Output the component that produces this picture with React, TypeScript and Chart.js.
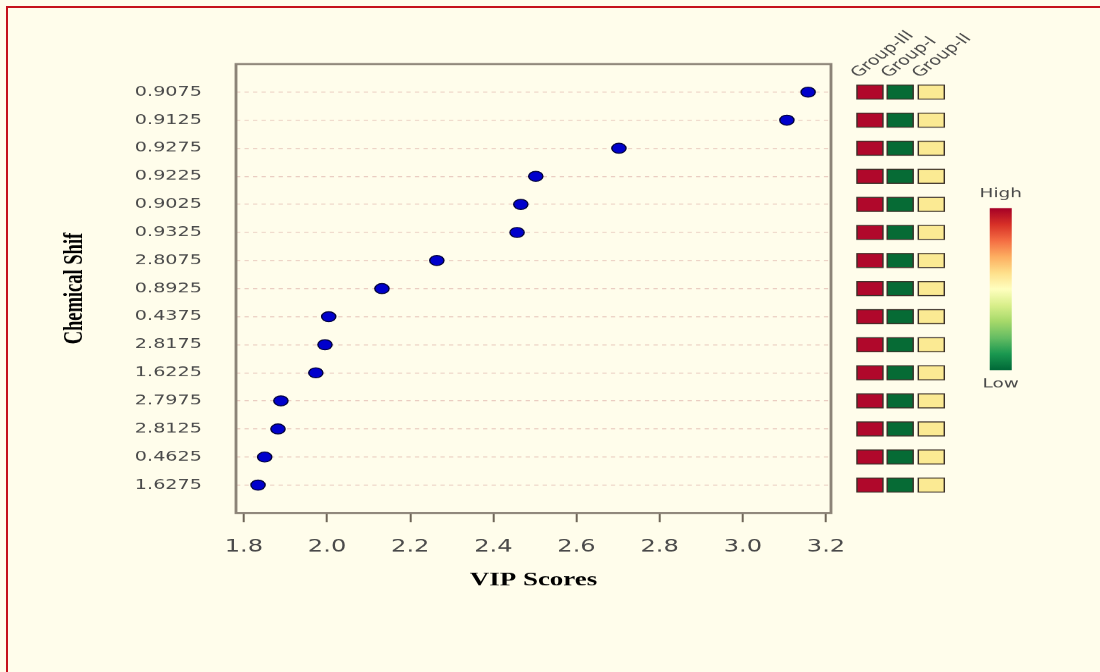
import React, { useEffect, useRef } from "react";
import { Chart, registerables } from "chart.js";

Chart.register(...registerables);

// ---- data ----
const chemicalShifts = [
  "0.9075", "0.9125", "0.9275", "0.9225", "0.9025", "0.9325", "2.8075", "0.8925",
  "0.4375", "2.8175", "1.6225", "2.7975", "2.8125", "0.4625", "1.6275",
];
const vipScores = [
  3.157, 3.106, 2.702, 2.502, 2.466, 2.457, 2.264, 2.132,
  2.004, 1.995, 1.973, 1.889, 1.882, 1.850, 1.834,
];
const xTickValues = [1.8, 2.0, 2.2, 2.4, 2.6, 2.8, 3.0, 3.2];
const groupNames = ["Group-III", "Group-I", "Group-II"];
// relative level per row for each group: "high" | "low" | "mid"
const groupIIILevels = Array.from({ length: 15 }, () => "high");
const groupILevels = Array.from({ length: 15 }, () => "low");
const groupIILevels = Array.from({ length: 15 }, () => "mid");
const heatLevels = [groupIIILevels, groupILevels, groupIILevels];

// ---- styling ----
const SX = 1.42; // horizontal stretch of the original figure
const W = 775;
const H = 672;
const levelColor: Record<string, string> = { high: "#b0082b", low: "#066b35", mid: "#fbea93" };

const sidePlugin = {
  id: "sidePlugin",
  afterDraw(chart: any) {
    const { ctx, chartArea } = chart;
    const y = chart.scales.y;
    ctx.save();
    // frame
    ctx.strokeStyle = "#8c8377";
    ctx.lineWidth = 2;
    ctx.strokeRect(chartArea.left, chartArea.top, chartArea.right - chartArea.left, chartArea.bottom - chartArea.top);

    // heat squares
    const colOffsets = [18.3, 39.6, 61.5];
    const cw = 18.3;
    const ch = 14;
    heatLevels.forEach((levels, g) => {
      levels.forEach((lv, i) => {
        const cy = y.getPixelForValue(i);
        const x0 = chartArea.right + colOffsets[g];
        ctx.fillStyle = levelColor[lv];
        ctx.fillRect(x0, cy - ch / 2, cw, ch);
        ctx.strokeStyle = "#3a3028";
        ctx.lineWidth = 1;
        ctx.strokeRect(x0, cy - ch / 2, cw, ch);
      });
    });

    // group headers
    ctx.fillStyle = "#4a4a4a";
    ctx.font = '13.5px "DejaVu Sans"';
    ctx.textAlign = "left";
    ctx.textBaseline = "alphabetic";
    groupNames.forEach((name, g) => {
      const x0 = chartArea.right + colOffsets[g] + 1;
      ctx.save();
      ctx.translate(x0, 78);
      ctx.rotate((-47 * Math.PI) / 180);
      ctx.fillText(name, 0, 0);
      ctx.restore();
    });

    // colour bar
    const bx = 697, bw = 15.5, by0 = 208, by1 = 370;
    const grad = ctx.createLinearGradient(0, by0, 0, by1);
    const stops = ["#a50026", "#d73027", "#f46d43", "#fdae61", "#fee08b", "#ffffbf", "#d9ef8b", "#a6d96a", "#66bd63", "#1a9850", "#006837"];
    stops.forEach((c, i) => grad.addColorStop(i / (stops.length - 1), c));
    ctx.fillStyle = grad;
    ctx.fillRect(bx, by0, bw, by1 - by0);
    ctx.fillStyle = "#4a4a4a";
    ctx.font = '13px "DejaVu Sans"';
    ctx.textAlign = "center";
    ctx.textBaseline = "middle";
    ctx.fillText("High", bx + bw / 2, 194);
    ctx.fillText("Low", bx + bw / 2, 384);
    ctx.restore();
  },
};

export default function App() {
  const ref = useRef<HTMLCanvasElement>(null);
  useEffect(() => {
    if (!ref.current) return;
    const chart = new Chart(ref.current, {
      type: "scatter",
      data: {
        datasets: [
          {
            data: vipScores.map((v, i) => ({ x: v, y: i })),
            backgroundColor: "#0000cc",
            borderColor: "#00003a",
            borderWidth: 1,
            pointRadius: 5,
            pointHoverRadius: 5,
          },
        ],
      },
      options: {
        animation: false,
        responsive: false,
        devicePixelRatio: SX,
        events: [],
        layout: { padding: { top: 64, right: W - 585.2, left: 0, bottom: 0 } },
        plugins: { legend: { display: false }, tooltip: { enabled: false } },
        scales: {
          x: {
            type: "linear",
            min: 1.781,
            max: 3.212,
            afterBuildTicks: (s: any) => {
              s.ticks = xTickValues.map((v) => ({ value: v }));
            },
            afterFit: (s: any) => {
              s.height = 159;
            },
            ticks: {
              callback: (v: any) => Number(v).toFixed(1),
              font: { family: "DejaVu Sans", size: 17 },
              color: "#4a4a4a",
              padding: 15,
              maxRotation: 0,
              autoSkip: false,
            },
            grid: {
              drawOnChartArea: false,
              drawTicks: true,
              tickLength: 9,
              tickWidth: 1.4,
              tickColor: "#6e6558",
            },
            border: { display: false },
            title: {
              display: true,
              text: "VIP Scores",
              color: "#000",
              font: { family: "Liberation Serif", weight: "bold", size: 19 },
              padding: { top: 0, bottom: 80 },
            },
          },
          y: {
            type: "linear",
            reverse: true,
            min: -1,
            max: 15,
            afterBuildTicks: (s: any) => {
              s.ticks = chemicalShifts.map((_, i) => ({ value: i }));
            },
            afterFit: (s: any) => {
              s.width = 166.2;
            },
            ticks: {
              callback: (v: any) => chemicalShifts[v] ?? "",
              font: { family: "DejaVu Sans", size: 13.5 },
              color: "#4a4a4a",
              padding: 24,
              autoSkip: false,
            },
            grid: { color: "#e9cbbf", lineWidth: 1, drawTicks: false },
            border: { display: false, dash: [3, 3] },
            title: {
              display: true,
              text: "Chemical Shif",
              color: "#000",
              font: { family: "Liberation Serif", weight: "bold", size: 18.5 },
              padding: { top: 42, bottom: 0 },
            },
          },
        },
      },
      plugins: [sidePlugin],
    } as any);
    return () => chart.destroy();
  }, []);

  return (
    <div style={{ position: "absolute", left: 0, top: 0, width: 1100, height: 672, background: "#fffdeb", overflow: "hidden" }}>
      <div
        style={{
          position: "absolute",
          left: 6,
          top: 6,
          width: 1094,
          height: 666,
          borderTop: "2px solid #c5121b",
          borderLeft: "2px solid #c5121b",
          boxSizing: "border-box",
        }}
      />
      <canvas
        ref={ref}
        width={W}
        height={H}
        style={{ position: "absolute", left: 0, top: 0, width: "1100px", height: "672px" }}
      />
    </div>
  );
}
